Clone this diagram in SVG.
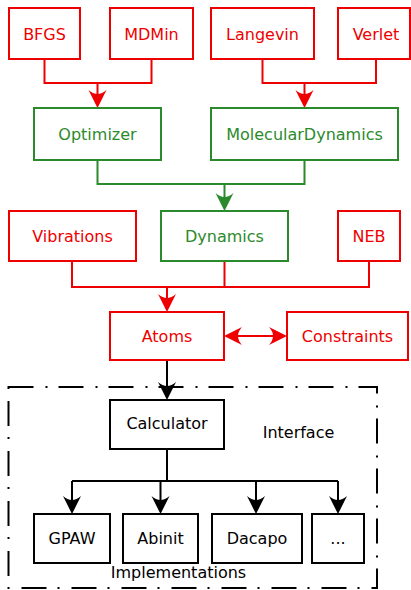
<svg xmlns="http://www.w3.org/2000/svg" width="411" height="590" viewBox="0 0 411 590">
<style>
text{font-family:"DejaVu Sans",sans-serif;font-size:16px;text-anchor:middle}
.r rect{fill:#fff;stroke:#ee0000;stroke-width:2}
.r text{fill:#ee0000}
.g rect{fill:#fff;stroke:#2b8a2b;stroke-width:2}
.g text{fill:#2b8a2b}
.k rect{fill:#fff;stroke:#000;stroke-width:2}
.k text{fill:#000}
.cr{fill:none;stroke:#ee0000;stroke-width:2}
.cg{fill:none;stroke:#2b8a2b;stroke-width:2}
.ck{fill:none;stroke:#000;stroke-width:2}
</style>
<defs>
<marker id="ar" markerUnits="userSpaceOnUse" orient="auto" overflow="visible" markerWidth="1" markerHeight="1"><path d="M3,0 L-15,-9 Q-7,0 -15,9 Z" fill="#ee0000"/></marker>
<marker id="ars" markerUnits="userSpaceOnUse" orient="auto-start-reverse" overflow="visible" markerWidth="1" markerHeight="1"><path d="M3,0 L-15,-9 Q-7,0 -15,9 Z" fill="#ee0000"/></marker>
<marker id="ag" markerUnits="userSpaceOnUse" orient="auto" overflow="visible" markerWidth="1" markerHeight="1"><path d="M3,0 L-15,-9 Q-7,0 -15,9 Z" fill="#2b8a2b"/></marker>
<marker id="ak" markerUnits="userSpaceOnUse" orient="auto" overflow="visible" markerWidth="1" markerHeight="1"><path d="M3,0 L-15,-9 Q-7,0 -15,9 Z" fill="#000"/></marker>
</defs>
<rect x="8.5" y="387" width="368.5" height="201" fill="none" stroke="#000" stroke-width="2" stroke-dasharray="25,12,2,11"/>
<text x="298.5" y="437.5">Interface</text>
<text x="178.5" y="577.5">Implementations</text>
<g id="connectors">
<path class="cr" d="M44.5,59 V83 H151.5 V59"/>
<path class="cr" d="M97.5,83 V105" marker-end="url(#ar)"/>
<path class="cr" d="M262.5,59 V83 H376 V59"/>
<path class="cr" d="M304.5,83 V105" marker-end="url(#ar)"/>
<path class="cg" d="M97.5,160 V184 H304.5 V160"/>
<path class="cg" d="M224.5,184 V208" marker-end="url(#ag)"/>
<path class="cr" d="M72,261 V287 H369 V261 M224.5,261 V287"/>
<path class="cr" d="M167,287 V309" marker-end="url(#ar)"/>
<path class="cr" d="M227,336 H284" marker-start="url(#ars)" marker-end="url(#ars)"/>
<path class="ck" d="M167,360 V397" marker-end="url(#ak)"/>
<path class="ck" d="M167,449 V481" stroke-width="3"/>
<path class="ck" d="M72,481 H338"/>
<path class="ck" d="M72,481 V511" marker-end="url(#ak)"/>
<path class="ck" d="M160.5,481 V511" marker-end="url(#ak)"/>
<path class="ck" d="M256,481 V511" marker-end="url(#ak)"/>
<path class="ck" d="M338,481 V511" marker-end="url(#ak)"/>
</g>
<g id="bfgs" class="r"><rect x="9" y="8" width="71" height="51"/><text x="44.5" y="39.5">BFGS</text></g>
<g id="mdmin" class="r"><rect x="110" y="8" width="83" height="51"/><text x="151.5" y="39.5">MDMin</text></g>
<g id="langevin" class="r"><rect x="211" y="8" width="103" height="51"/><text x="262.5" y="39.5">Langevin</text></g>
<g id="verlet" class="r"><rect x="338" y="8" width="72" height="51"/><text x="376" y="39.5">Verlet</text></g>
<g id="optimizer" class="g"><rect x="34" y="108" width="127" height="52"/><text x="97.5" y="139.5">Optimizer</text></g>
<g id="moleculardynamics" class="g"><rect x="211" y="108" width="187" height="52"/><text x="304.5" y="139.5">MolecularDynamics</text></g>
<g id="vibrations" class="r"><rect x="9" y="211" width="127" height="50"/><text x="72.5" y="241.5">Vibrations</text></g>
<g id="dynamics" class="g"><rect x="161" y="211" width="127" height="50"/><text x="224.5" y="241.5">Dynamics</text></g>
<g id="neb" class="r"><rect x="338" y="211" width="62" height="50"/><text x="369" y="241.5">NEB</text></g>
<g id="atoms" class="r"><rect x="110" y="312" width="114" height="48"/><text x="167" y="341.5">Atoms</text></g>
<g id="constraints" class="r"><rect x="287" y="312" width="121" height="48"/><text x="347.5" y="341.5">Constraints</text></g>
<g id="calculator" class="k"><rect x="110" y="400" width="114" height="49"/><text x="167" y="429">Calculator</text></g>
<g id="gpaw" class="k"><rect x="34" y="514" width="76" height="49"/><text x="72" y="543.5">GPAW</text></g>
<g id="abinit" class="k"><rect x="123" y="514" width="75" height="49"/><text x="160.5" y="543.5">Abinit</text></g>
<g id="dacapo" class="k"><rect x="212" y="514" width="90" height="49"/><text x="257" y="543.5">Dacapo</text></g>
<g id="more" class="k"><rect x="312" y="514" width="52" height="49"/><text x="338" y="543.5">...</text></g>
</svg>
